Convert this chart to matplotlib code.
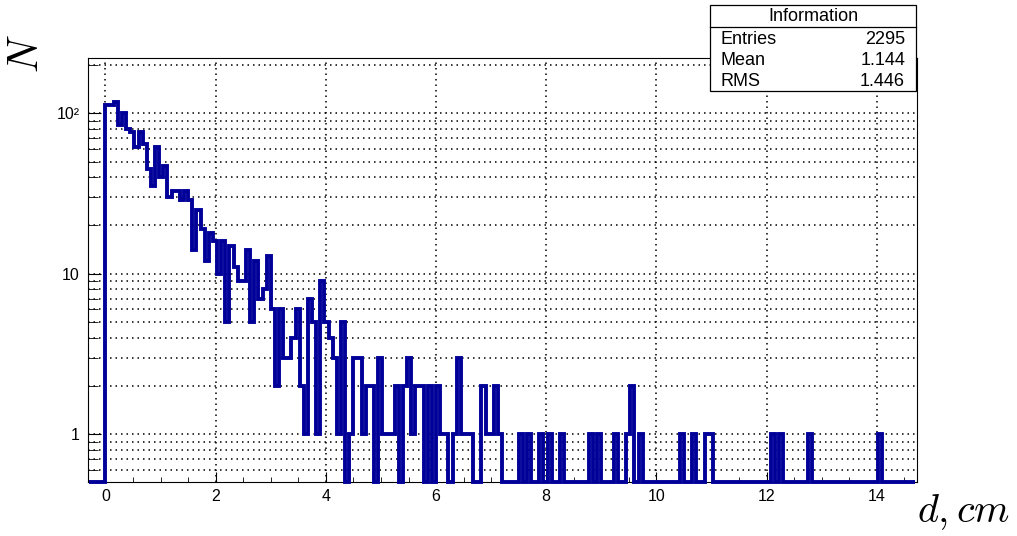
import numpy as np
import matplotlib.pyplot as plt
from matplotlib.patches import Rectangle
from matplotlib.lines import Line2D
from matplotlib.ticker import LogLocator, NullFormatter, MultipleLocator

# histogram binning (ROOT style, 200 bins)
X_LO, X_HI, N_BINS = -0.3, 14.7, 200

# bin contents, left to right
counts = [
    0, 0, 0, 0,
    112, 112, 118, 85, 100, 80, 76, 62, 76, 64,
    45, 35, 62, 40, 47, 30, 33, 33, 29, 33,
    29, 14, 25, 19, 12, 18, 16, 10, 16, 5,
    15, 11, 9, 9, 14, 5, 12, 7, 8, 13,
    6, 2, 6, 3, 3, 4, 6, 2, 1, 7,
    5, 1, 9, 5, 4, 3, 1, 5, 0, 1,
    3, 3, 1, 2, 2, 0, 3, 1, 1, 1,
    2, 0, 2, 3, 1, 2, 2, 0, 2, 0,
    2, 1, 1, 0, 1, 3, 1, 1, 1, 0,
    0, 2, 1, 1, 2, 1, 0, 0, 0, 0,
    1, 0, 1, 0, 0, 1, 0, 1, 0, 0,
    1, 0, 0, 0, 0, 0, 0, 1, 0, 1,
    0, 0, 0, 1, 0, 0, 1, 2, 0, 1,
    0, 0, 0, 0, 0, 0, 0, 0, 0, 1,
    0, 0, 1, 0, 0, 1, 1, 0, 0, 0,
    0, 0, 0, 0, 0, 0, 0, 0, 0, 0,
    0, 1, 0, 1, 0, 0, 0, 0, 0, 0,
    1, 0, 0, 0, 0, 0, 0, 0, 0, 0,
    0, 0, 0, 0, 0, 0, 0, 1, 0, 0,
    0, 0, 0, 0, 0, 0,
]

x_ticks = [0, 2, 4, 6, 8, 10, 12, 14]
y_ticks = [1, 10, 100]
y_tick_labels = ["1", "10", "10\u00b2"]

stats_title = "Information"
stats_labels = ["Entries", "Mean", "RMS"]
stats_values = ["2295", "1.144", "1.446"]

LINE = "#000099"

plt.rcParams.update({
    "font.family": ["Liberation Sans", "DejaVu Sans"],
    "mathtext.fontset": "cm",
    "axes.linewidth": 0.8,
})

W, H = 1017, 536
fig = plt.figure(figsize=(W / 100, H / 100), dpi=100)
ax = fig.add_axes([87.7 / W, 1 - 481.7 / H, (917 - 87.7) / W, (481.7 - 58.3) / H])

y_lo, y_hi = 0.507, 220
edges = np.linspace(X_LO, X_HI, N_BINS + 1)
vals = np.array(counts, dtype=float)
# empty bins sit on the frame bottom, as ROOT draws them
drawn = np.where(vals > 0, vals, y_lo)
ax.stairs(drawn, edges, baseline=y_lo, color=LINE, lw=2.8, clip_on=False, zorder=3)

ax.set_yscale("log")
ax.set_xlim(-0.323, 14.73)
ax.set_ylim(y_lo, y_hi)

ax.set_xticks(x_ticks, labels=[str(t) for t in x_ticks])
ax.xaxis.set_minor_locator(MultipleLocator(0.5))
ax.set_yticks(y_ticks, labels=y_tick_labels)
ax.yaxis.set_minor_locator(LogLocator(subs=np.arange(2, 10)))
ax.yaxis.set_minor_formatter(NullFormatter())

ax.tick_params(which="both", direction="in", top=False, right=False, labelsize=11.5)
ax.tick_params(axis="x", which="major", length=7.5, pad=5)
ax.tick_params(axis="x", which="minor", length=3.8)
ax.tick_params(axis="y", which="major", length=9, pad=6)
ax.tick_params(axis="y", which="minor", length=7.5)

grid_kw = dict(color="black", linestyle=(0, (1, 2.6)), lw=1.1)
ax.grid(axis="x", which="major", **grid_kw)
ax.grid(axis="y", which="both", **grid_kw)
ax.set_axisbelow(True)

# axis titles, ROOT-style at the axis ends
fig.text(27 / W, 1 - 54 / H, "$N$", rotation=90, ha="center", va="center", fontsize=30)
fig.text(1010 / W, 1 - 512 / H, "$d, cm$", ha="right", va="center", fontsize=29)

# stats box
bx0, bx1, by0, by1, bsep = 710, 916, 5, 91, 27
fig.add_artist(Rectangle((bx0 / W, 1 - by1 / H), (bx1 - bx0) / W, (by1 - by0) / H,
                         transform=fig.transFigure, facecolor="white",
                         edgecolor="black", lw=0.9, zorder=5))
fig.add_artist(Line2D([bx0 / W, bx1 / W], [1 - bsep / H] * 2, transform=fig.transFigure,
                      color="black", lw=0.9, zorder=6))
fig.text((bx0 + bx1) / 2 / W, 1 - 16.5 / H, stats_title, ha="center", va="center",
         fontsize=13, zorder=7)
for i, (lab, val) in enumerate(zip(stats_labels, stats_values)):
    yy = 1 - (39.5 + 21 * i) / H
    fig.text(721 / W, yy, lab, ha="left", va="center", fontsize=13, zorder=7)
    fig.text(905 / W, yy, val, ha="right", va="center", fontsize=13, zorder=7)

fig.savefig("out.png", dpi=100)
